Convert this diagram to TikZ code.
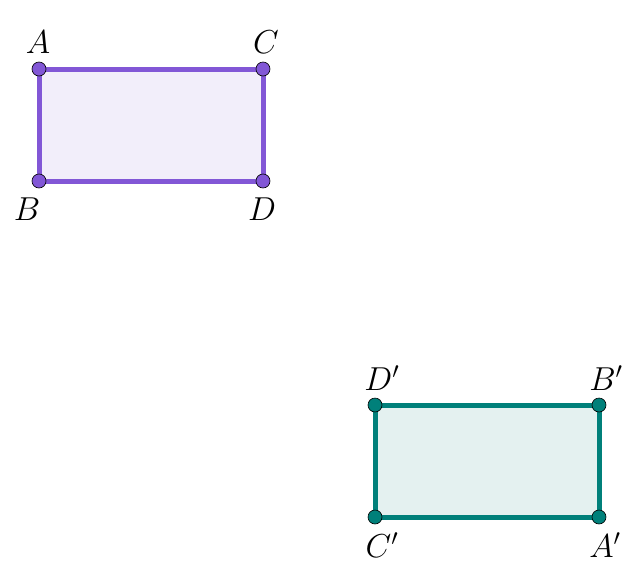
\documentclass[tikz,border=0pt]{standalone}
\begin{document}
\begin{tikzpicture}[x=1pt,y=-1pt,
  lbl/.style={font=\fontsize{20}{24}\selectfont},
  pdot/.style={circle,draw=black,line width=0.6pt,fill=#1,inner sep=0pt,minimum size=14pt}]
\definecolor{pur}{HTML}{8257D6}\definecolor{purf}{HTML}{F2EEFA}
\definecolor{tea}{HTML}{00807A}\definecolor{teaf}{HTML}{E4F1F0}
\useasboundingbox (0,0) rectangle (640,584);
\coordinate (A) at (39,69); \coordinate (C) at (263,69);
\coordinate (B) at (39,181); \coordinate (D) at (263,181);
\coordinate (D2) at (375,405); \coordinate (B2) at (599,405);
\coordinate (C2) at (375,517); \coordinate (A2) at (599,517);
\draw[pur,fill=purf,line width=5pt] (A)--(C)--(D)--(B)--cycle;
\draw[tea,fill=teaf,line width=5pt] (D2)--(B2)--(A2)--(C2)--cycle;
\foreach \p in {A,B,C,D} \node[pdot=pur] (d\p) at (\p) {};
\foreach \p in {A2,B2,C2,D2} \node[pdot=tea] (d\p) at (\p) {};
\node[lbl] (lA) at (38,42) {\scalebox{1.6}{$A$}};
\node[lbl] (lC) at (266,42) {\scalebox{1.6}{$C$}};
\node[lbl] (lB) at (27,209) {\scalebox{1.6}{$B$}};
\node[lbl] (lD) at (262,209) {\scalebox{1.6}{$D$}};
\node[lbl] (lD2) at (382,378) {\scalebox{1.6}{$D'$}};
\node[lbl] (lB2) at (606,378) {\scalebox{1.6}{$B'$}};
\node[lbl] (lC2) at (382,545) {\scalebox{1.6}{$C'$}};
\node[lbl] (lA2) at (605,545) {\scalebox{1.6}{$A'$}};
\end{tikzpicture}
\end{document}
